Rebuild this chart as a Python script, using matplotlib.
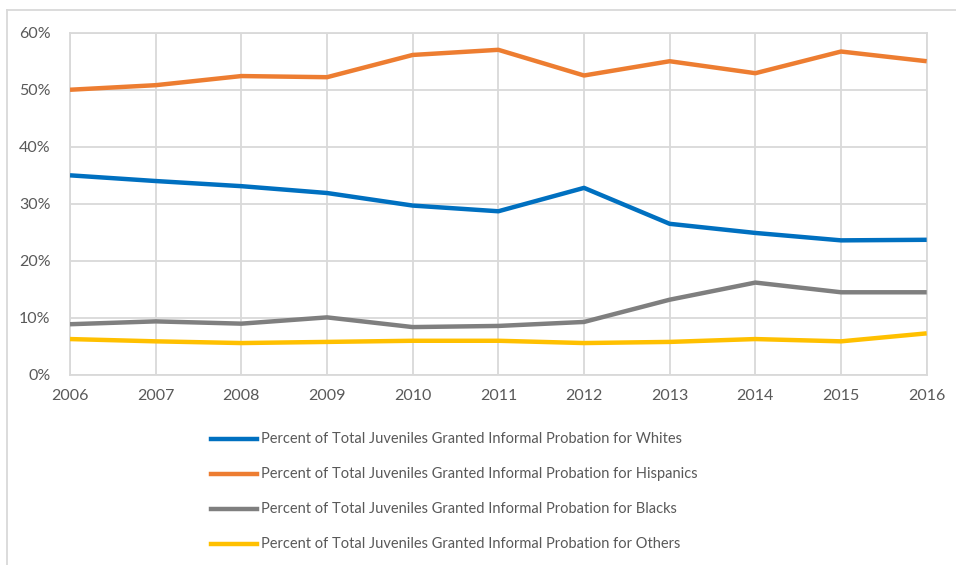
import matplotlib
matplotlib.use("Agg")
import matplotlib.pyplot as plt
from matplotlib.lines import Line2D
from matplotlib.ticker import PercentFormatter

years = [2006, 2007, 2008, 2009, 2010, 2011, 2012, 2013, 2014, 2015, 2016]
whites = [35.0, 34.0, 33.1, 31.9, 29.7, 28.7, 32.8, 26.5, 24.9, 23.6, 23.7]
hispanics = [50.0, 50.8, 52.4, 52.2, 56.1, 57.0, 52.5, 55.0, 52.9, 56.7, 55.0]
blacks = [8.9, 9.4, 9.0, 10.1, 8.4, 8.6, 9.3, 13.2, 16.2, 14.5, 14.5]
others = [6.3, 5.9, 5.6, 5.8, 6.0, 6.0, 5.6, 5.8, 6.3, 5.9, 7.3]

labels = [
    "Percent of Total Juveniles Granted Informal Probation for Whites",
    "Percent of Total Juveniles Granted Informal Probation for Hispanics",
    "Percent of Total Juveniles Granted Informal Probation for Blacks",
    "Percent of Total Juveniles Granted Informal Probation for Others",
]
colors = ["#0070C0", "#ED7D31", "#7F7F7F", "#FFC000"]
series = [whites, hispanics, blacks, others]

plt.rcParams['font.family'] = ['Lato', 'DejaVu Sans']

W, H = 956, 565
fig = plt.figure(figsize=(W / 100, H / 100), dpi=100)
ax = fig.add_axes([70 / W, 1 - 375 / H, (926.7 - 70) / W, (375 - 32.7) / H])

for vals, c in zip(series, colors):
    ax.plot(years, vals, color=c, linewidth=3.2, solid_capstyle='butt', zorder=3)

ax.set_xlim(2006, 2016)
ax.set_ylim(0, 60)
ax.set_xticks(years)
ax.set_yticks(range(0, 61, 10))
ax.yaxis.set_major_formatter(PercentFormatter(decimals=0))
ax.grid(True, color="#D9D9D9", linewidth=1.3, zorder=0)
for s in ax.spines.values():
    s.set_color("#D9D9D9")
    s.set_linewidth(1.3)
ax.tick_params(length=0, colors="#595959", labelsize=11.5)
ax.tick_params(axis='x', pad=10)
ax.tick_params(axis='y', pad=14)

# chart border (top and left visible)
fig.add_artist(Line2D([7 / W, 7 / W], [0, 1 - 10 / H], color="#D9D9D9", lw=1.3, transform=fig.transFigure))
fig.add_artist(Line2D([7 / W, 1], [1 - 10 / H, 1 - 10 / H], color="#D9D9D9", lw=1.3, transform=fig.transFigure))

# legend
ys = [439, 474, 509, 544]
for lab, c, y in zip(labels, colors, ys):
    fig.add_artist(Line2D([211 / W, 257 / W], [1 - y / H, 1 - y / H], color=c, lw=3.2,
                          transform=fig.transFigure))
    fig.text(261 / W, 1 - y / H, lab, color="#595959", fontsize=10.5, va='center', ha='left')

fig.savefig("out.png", dpi=100)
